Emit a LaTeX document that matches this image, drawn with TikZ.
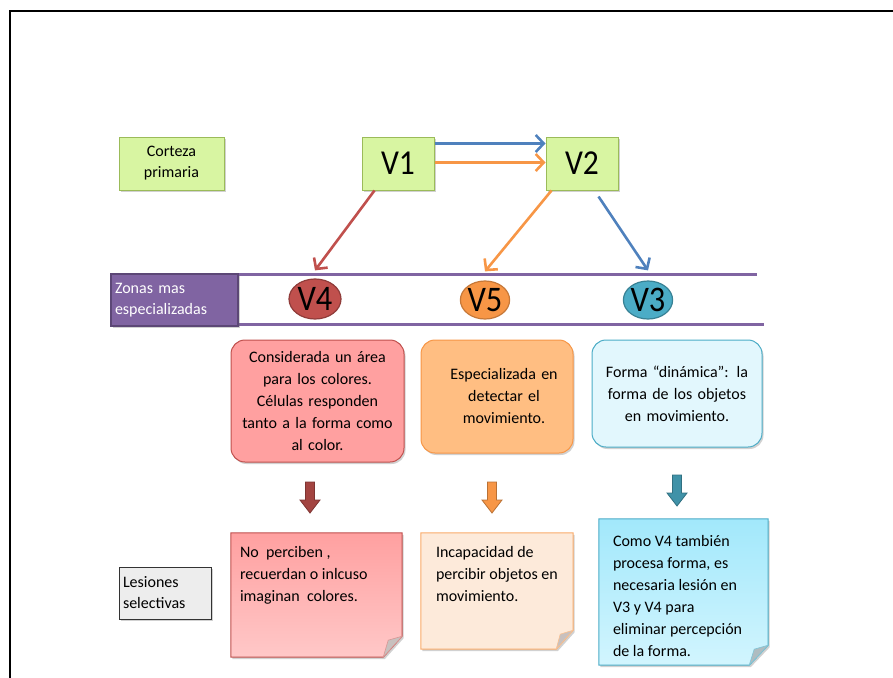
\documentclass[tikz,border=0pt]{standalone}
\usepackage{fontspec}
\setmainfont{Carlito}
\usetikzlibrary{arrows.meta,shapes.geometric,shadows,calc}

\definecolor{gfill}{HTML}{D8F5A2}
\definecolor{gline}{HTML}{9BBB59}
\definecolor{cblue}{HTML}{4F81BD}
\definecolor{corange}{HTML}{F79646}
\definecolor{cred}{HTML}{C0504D}
\definecolor{cpurple}{HTML}{8064A2}
\definecolor{cpurpled}{HTML}{5C4776}
\definecolor{cteal}{HTML}{4BACC6}
\definecolor{redfill}{HTML}{FFA0A0}
\definecolor{redlight}{HTML}{FFC8C8}
\definecolor{orfill}{HTML}{FFBE82}
\definecolor{orlight}{HTML}{FDEADA}
\definecolor{cyfill}{HTML}{E2F7FD}
\definecolor{cynote}{HTML}{A2E8FB}
\definecolor{cynotel}{HTML}{D2F5FE}
\definecolor{foldgray}{HTML}{C8C0BE}

\newcommand{\narrow}[1]{\scalebox{0.9}[1]{#1}}

\begin{document}
\begin{tikzpicture}[x=1pt,y=-1pt,
  shadowed/.style={drop shadow={shadow xshift=1.5pt,shadow yshift=-2pt,opacity=.3,fill=black!60}},
  greenbox/.style={draw=gline,fill=gfill,line width=1pt,shadowed,inner sep=0pt,align=center},
  smalltext/.style={font=\fontsize{16}{21}\selectfont},
  bodytext/.style={font=\fontsize{16}{22}\selectfont},
  bigtext/.style={font=\fontsize{35}{38}\selectfont},
  area/.style={ellipse,line width=1.2pt,inner sep=0pt,font=\fontsize{36}{38}\selectfont},
  descbox/.style={rounded corners=14pt,line width=1pt,shadowed,inner sep=0pt,align=center,bodytext},
  notebase/.style={inner sep=0pt},
  notetext/.style={anchor=north west,align=left,inner sep=0pt,bodytext},
  linkarrow/.style={line width=2.6pt,-{Straight Barb[length=8pt,width=17pt,line width=2.6pt]}},
  blockarrow/.style={line width=.8pt,line join=miter},
  zoneline/.style={draw=cpurple,line width=3pt}
]
\useasboundingbox (0,0) rectangle (893,677);

% outer frame
\coordinate (fbl) at (10,678);
\coordinate (ftl) at (10,11);
\coordinate (ftr) at (894,11);
\draw[line width=2pt,black] (fbl) -- (ftl) -- (ftr);

% primary cortex row
\node[greenbox,smalltext,minimum width=105pt,minimum height=53pt] (cort) at (171.5,163.5) {Corteza\\primaria};
\node[greenbox,bigtext,minimum width=72pt,minimum height=53pt] (V1) at (398,163.5) {\narrow{V1}};
\node[greenbox,bigtext,minimum width=72pt,minimum height=53pt] (V2) at (582,163.5) {\narrow{V2}};

% band of specialised areas
\coordinate (ta) at (230,274);
\coordinate (tb) at (757,274);
\coordinate (ba) at (237,324);
\coordinate (bb) at (764,324);
\draw[zoneline] (ta) -- (tb);
\draw[zoneline] (ba) -- (bb);
\node[draw=cpurpled,fill=cpurple,line width=1.2pt,minimum width=127pt,minimum height=52pt,
  text width=119pt,align=left,inner sep=0pt,text=white,smalltext,shadowed] (zonas) at (174.5,300)
  {Zonas mas\\especializadas};

\node[area,draw=cred!75!black,fill=cred,minimum width=52pt,minimum height=40pt] (V4) at (315,299) {\narrow{V4}};
\node[area,draw=corange!80!black,fill=corange,minimum width=48pt,minimum height=38pt] (V5) at (485,300) {\narrow{V5}};
\node[area,draw=cteal!75!black,fill=cteal,minimum width=48pt,minimum height=38pt] (V3) at (648,300) {\narrow{V3}};

% pathways
\draw[linkarrow,cblue] ([yshift=-7pt]V1.north east) -- ([yshift=-7pt]V2.north west);
\draw[linkarrow,corange] ([yshift=-26pt]V1.north east) -- ([yshift=-26pt]V2.north west);
\draw[linkarrow,cred] ([xshift=13pt]V1.south west) -- ([yshift=8pt]V4.north);
\draw[linkarrow,corange] ([xshift=6pt]V2.south west) -- ([yshift=9pt]V5.north);
\draw[linkarrow,cblue] ([xshift=-20pt,yshift=-6pt]V2.south east) -- ([yshift=10pt]V3.north);

% descriptions
\node[descbox,draw=cred,fill=redfill,minimum width=173pt,minimum height=122pt,text width=168pt] (d4) at (317.5,401)
  {Considerada un área\\para los colores.\\Células responden\\tanto a la forma como\\al color.};
\node[descbox,draw=corange,fill=orfill,minimum width=152pt,minimum height=113pt,text width=146pt] (d5) at (497,396.5)
  {\hspace*{14pt}Especializada en\\\hspace*{14pt}detectar el\\\hspace*{14pt}movimiento.\\[6pt]};
\node[descbox,draw=cteal,fill=cyfill,minimum width=170pt,minimum height=107pt,text width=164pt] (d3) at (677,393.5)
  {Forma “dinámica”: la\\forma de los objetos\\en movimiento.\\[4pt]};

% block arrows pointing down to the lesion notes
\coordinate (a4) at (310,482);
\coordinate (a5) at (492,482);
\coordinate (a3) at (677,475);
\foreach \c/\f/\d in {a4/cred!85!black/cred!65!black, a5/corange/corange!75!black, a3/cteal!85!black/cteal!65!black}{
  \filldraw[blockarrow,fill=\f,draw=\d]
    ($(\c)+(-4.5,0)$) -- ++(9,0) -- ++(0,18) -- ++(5.5,0) -- ++(-10,13) -- ++(-10,-13) -- ++(5.5,0) -- cycle;
}

% lesion notes with folded corner
\node[notebase,minimum width=171pt,minimum height=124pt] (n4) at (316.5,595) {};
\node[notebase,minimum width=152pt,minimum height=116pt] (n5) at (497,591) {};
\node[notebase,minimum width=169pt,minimum height=146pt] (n3) at (683.5,592) {};

\path[draw=cred,line width=1pt,shadowed,top color=redfill,middle color=redfill,bottom color=redlight]
  (n4.north west) -- (n4.north east) -- ([yshift=21pt]n4.south east) -- ([xshift=-19pt]n4.south east)
  -- (n4.south west) -- cycle;
\filldraw[fill=foldgray,draw=cred!60,line width=.6pt]
  ([yshift=21pt]n4.south east) -- ([xshift=-19pt]n4.south east) -- ([xshift=-14pt,yshift=17pt]n4.south east) -- cycle;

\path[draw=corange!80,line width=1pt,shadowed,fill=orlight]
  (n5.north west) -- (n5.north east) -- ([yshift=19pt]n5.south east) -- ([xshift=-17pt]n5.south east)
  -- (n5.south west) -- cycle;
\filldraw[fill=foldgray,draw=corange!60,line width=.6pt]
  ([yshift=19pt]n5.south east) -- ([xshift=-17pt]n5.south east) -- ([xshift=-13pt,yshift=15pt]n5.south east) -- cycle;

\path[draw=cteal,line width=1pt,shadowed,top color=cynote,middle color=cynote,bottom color=cynotel]
  (n3.north west) -- (n3.north east) -- ([yshift=20pt]n3.south east) -- ([xshift=-19pt]n3.south east)
  -- (n3.south west) -- cycle;
\filldraw[fill=foldgray!80!cteal,draw=cteal!70,line width=.6pt]
  ([yshift=20pt]n3.south east) -- ([xshift=-19pt]n3.south east) -- ([xshift=-14pt,yshift=16pt]n3.south east) -- cycle;

\node[notetext] (t4) at ([xshift=9pt,yshift=-13pt]n4.north west)
  {No\ \ perciben ,\\recuerdan o inlcuso\\imaginan\ \ colores.};
\node[notetext] (t5) at ([xshift=15pt,yshift=-13pt]n5.north west)
  {Incapacidad de\\percibir objetos en\\movimiento.};
\node[notetext] (t3) at ([xshift=14pt,yshift=-16pt]n3.north west)
  {Como V4 también\\procesa forma, es\\necesaria lesión en\\V3 y V4 para\\eliminar percepción\\de la forma.};

% row label
\node[draw=black!80,fill=black!7,line width=1pt,minimum width=92pt,minimum height=52pt,text width=84pt,
  align=left,inner sep=0pt,smalltext,shadowed] (les) at (165,593) {Lesiones\\selectivas};
\end{tikzpicture}
\end{document}
